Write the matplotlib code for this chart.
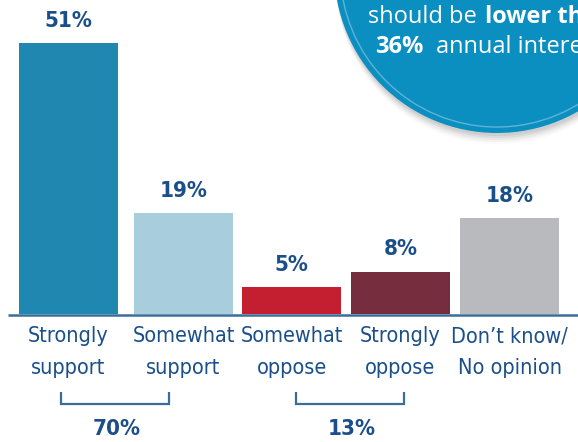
import matplotlib
matplotlib.use("Agg")
import matplotlib.pyplot as plt
from matplotlib.patches import Circle

plt.rcParams['font.family'] = ['DejaVu Sans']
plt.rcParams['font.stretch'] = 'condensed'

categories = ["Strongly\nsupport", "Somewhat\nsupport", "Somewhat\noppose",
              "Strongly\noppose", "Don\u2019t know/\nNo opinion"]
values = [51, 19, 5, 8, 18]
colors = ["#2088b0", "#a8cddc", "#c41f30", "#762d3d", "#b9babe"]
groups = [(0, 1, 70), (2, 3, 13)]

# layout in pixel units: bar centres, bar width, bracket spans
W, H = 578, 442
bar_x = [68.5, 183.5, 291.5, 400.5, 509.5]
bar_w = 99
bracket_x = [(61, 169), (296, 404)]
base_px = 314
px_per_pct = 5.31

navy = "#1b4f8a"
line_c = "#3a6d9a"
fig = plt.figure(figsize=(W / 100, H / 100), dpi=100)
ax = fig.add_axes([0, 0, 1, 1])
ax.set_xlim(0, W)
ax.set_ylim(-(H - base_px) / px_per_pct, base_px / px_per_pct)
ax.axis("off")

def py(p):
    # pixel row -> data y
    return (base_px - p) / px_per_pct

ax.bar(bar_x, values, width=bar_w, color=colors, zorder=2)
ax.plot([8, W], [py(315), py(315)], color=line_c, lw=1.8, zorder=3,
        solid_capstyle="butt")

for x, v in zip(bar_x, values):
    ax.text(x, v + 2.3, f"{v}%", ha="center", va="bottom", color=navy,
            fontsize=16, fontweight="bold")

for x, c in zip(bar_x, categories):
    ax.text(x, py(326), c, ha="center", va="top", color=navy, fontsize=15.5,
            linespacing=1.72)

# brackets joining support / oppose pairs
for (xa, xb), (a, b, total) in zip(bracket_x, groups):
    ax.plot([xa, xa, xb, xb], [py(392), py(404), py(404), py(392)],
            color=line_c, lw=1.6, solid_capstyle="butt",
            solid_joinstyle="miter")
    ax.text((xa + xb) / 2 + 2, py(429), f"{total}%", ha="center",
            va="center", color=navy, fontsize=16, fontweight="bold")

# callout bubble in the top-right corner, soft shadow underneath
cx, cy, r = 497, H + 29.7, 162.7
for i, a in enumerate([0.06, 0.05, 0.04, 0.03, 0.02]):
    fig.add_artist(Circle((cx + 1, cy - 3 - 2 * i), r, transform=None,
                          facecolor="#000000", edgecolor="none", alpha=a))
fig.add_artist(Circle((cx, cy), r, transform=None, facecolor="#0a8fc0",
                      edgecolor="none"))
fig.add_artist(Circle((cx, cy), r - 6, transform=None, facecolor="none",
                      edgecolor="#5fb3d6", lw=1.0))

bubble_font = dict(transform=None, color="white", fontsize=17,
                   family=["Open Sans", "DejaVu Sans"], va="baseline",
                   fontstretch="normal")
fig.text(368, H - 23, "should be", **bubble_font)
fig.text(485, H - 23, "lower than", fontweight="bold", **bubble_font)
fig.text(375, H - 53, "36%", fontweight="bold", **bubble_font)
fig.text(436, H - 53, "annual interest", **bubble_font)

fig.savefig("out.png", dpi=100)
